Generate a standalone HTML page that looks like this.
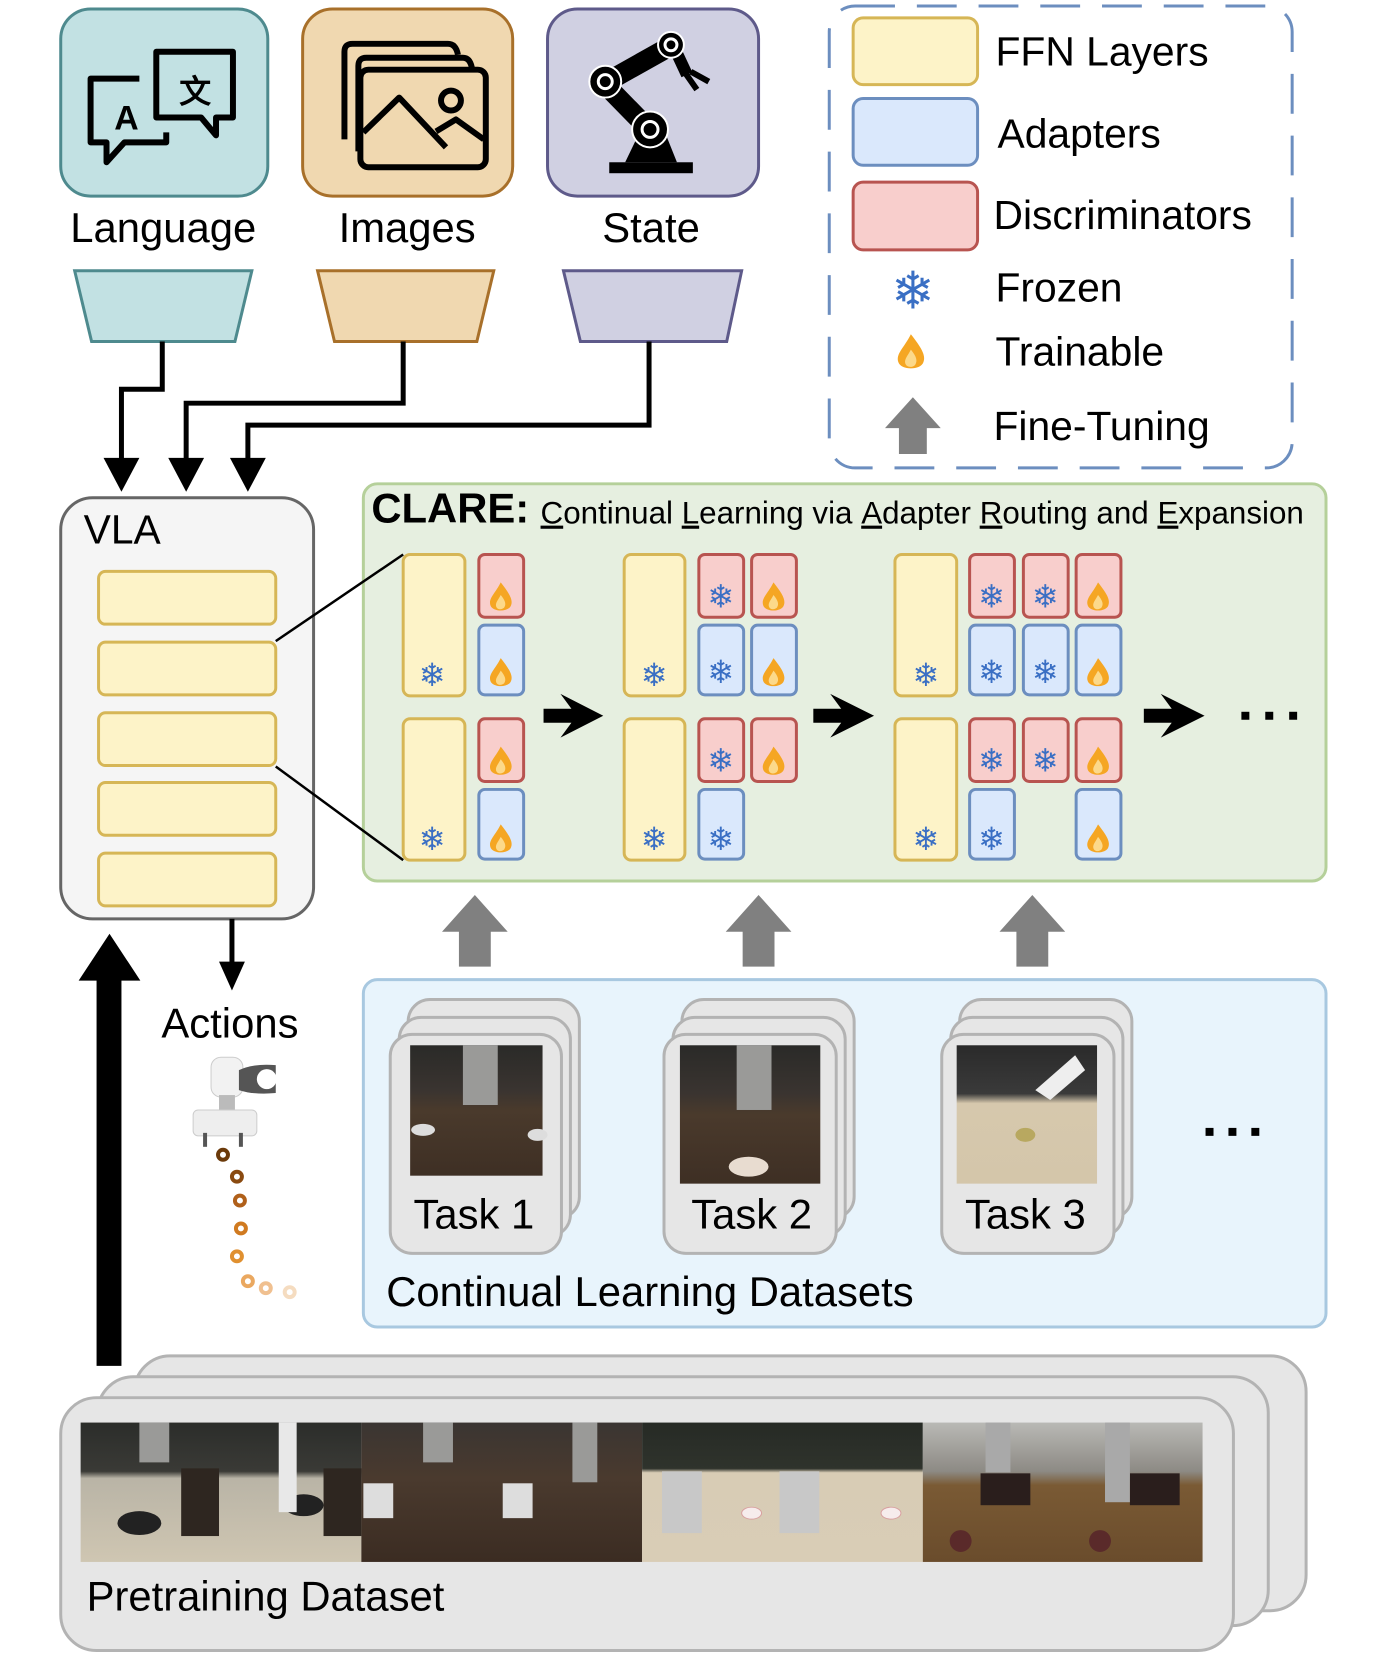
<!DOCTYPE html>
<html><head><meta charset="utf-8"><style>
html,body{margin:0;padding:0;background:#fff;}
svg{display:block;}
text{font-family:"Liberation Sans",Arial,sans-serif;}
</style></head><body>
<svg width="1386" height="1660" viewBox="0 0 1386 1660" xmlns="http://www.w3.org/2000/svg">
<defs>
<linearGradient id="p1" x1="0" y1="0" x2="0" y2="1"><stop offset="0" stop-color="#2b2d2a"/><stop offset="0.35" stop-color="#3a3a36"/><stop offset="0.4" stop-color="#b9b4a6"/><stop offset="1" stop-color="#cfc6b2"/></linearGradient>
<linearGradient id="p2" x1="0" y1="0" x2="0" y2="1"><stop offset="0" stop-color="#3a3532"/><stop offset="0.4" stop-color="#4a3a2e"/><stop offset="1" stop-color="#3b2c22"/></linearGradient>
<linearGradient id="p3" x1="0" y1="0" x2="0" y2="1"><stop offset="0" stop-color="#262a25"/><stop offset="0.33" stop-color="#2f332c"/><stop offset="0.36" stop-color="#d8ccb5"/><stop offset="1" stop-color="#d9cdb6"/></linearGradient>
<linearGradient id="p4" x1="0" y1="0" x2="0" y2="1"><stop offset="0" stop-color="#b9b9b5"/><stop offset="0.35" stop-color="#8d8a84"/><stop offset="0.45" stop-color="#7a5a34"/><stop offset="1" stop-color="#6a4c2c"/></linearGradient>
<linearGradient id="t1" x1="0" y1="0" x2="0" y2="1"><stop offset="0" stop-color="#2a2a28"/><stop offset="0.35" stop-color="#3a3430"/><stop offset="0.5" stop-color="#4a3a2c"/><stop offset="1" stop-color="#3e2f24"/></linearGradient>
<linearGradient id="t3" x1="0" y1="0" x2="0" y2="1"><stop offset="0" stop-color="#2a2a2a"/><stop offset="0.35" stop-color="#3a3a3a"/><stop offset="0.42" stop-color="#d6c8ad"/><stop offset="1" stop-color="#d4c6aa"/></linearGradient>
<g id="flame"><path d="M0,-13 C7,-4 11,2 9,7 C7,13 -7,13 -9,7 C-11,1 -5,-3 0,-13 Z" fill="#f5a623"/><path d="M0,-2 C4,3 5,6 3,9 C1,11 -3,11 -4,8 C-5,5 -2,2 0,-2 Z" fill="#fcd98a"/></g>
</defs>
<g transform="scale(0.9955)">

<!-- Input boxes -->
<rect x="61" y="9" width="208" height="188" rx="30" fill="#c2e1e3" stroke="#4e8a8e" stroke-width="3"/>
<rect x="304" y="9" width="211" height="188" rx="30" fill="#f0d8b0" stroke="#a8702a" stroke-width="3"/>
<rect x="550" y="9" width="212" height="188" rx="30" fill="#d0d0e2" stroke="#5e5a8a" stroke-width="3"/>

<g fill="none" stroke="#000" stroke-width="6" stroke-linejoin="round">
<path d="M140,79 H91 V143 H107 V163 L125,143 H167 V133"/>
<path d="M157,52 H234 V118 H217 V136 L202,118 H157 Z"/>
</g>
<text x="127" y="130" font-size="34" font-weight="bold" text-anchor="middle">A</text>
<text x="196" y="103" font-size="32" font-weight="bold" text-anchor="middle" font-family="Noto Sans CJK SC, sans-serif">文</text>

<g fill="none" stroke="#000" stroke-width="6" stroke-linejoin="round">
<path d="M346,140 V52 Q346,44 354,44 H450 Q458,44 460,55"/>
<path d="M360,152 V66 Q360,58 368,58 H465 Q472,58 474,68"/>
<rect x="362" y="70" width="126" height="98" rx="8"/>
<path d="M365,133 L401,98 L448,148"/>
<path d="M438,132 L458,120 L486,140"/>
<circle cx="453" cy="101" r="10"/>
</g>

<g>
<rect x="612" y="163" width="84" height="11" fill="#000"/>
<polygon points="628,163 680,163 670,138 640,138" fill="#000"/>
<path d="M608,85 L652,130" stroke="#000" stroke-width="20"/>
<path d="M610,82 L676,45" stroke="#000" stroke-width="20"/>
<path d="M676,45 L690,75" stroke="#000" stroke-width="12"/>
<path d="M686,70 L700,90 M694,72 L712,82" stroke="#000" stroke-width="6"/>
<circle cx="608" cy="82" r="16" fill="#000" stroke="#fff" stroke-width="2"/><circle cx="608" cy="82" r="7" fill="none" stroke="#fff" stroke-width="3"/>
<circle cx="653" cy="130" r="18" fill="#000" stroke="#fff" stroke-width="2"/><circle cx="653" cy="130" r="8" fill="none" stroke="#fff" stroke-width="3"/>
<circle cx="674" cy="45" r="13" fill="#000" stroke="#fff" stroke-width="2"/><circle cx="674" cy="45" r="6" fill="none" stroke="#fff" stroke-width="3"/>
</g>

<text x="164" y="243" font-size="42" text-anchor="middle">Language</text>
<text x="409" y="243" font-size="42" text-anchor="middle">Images</text>
<text x="654" y="243" font-size="42" text-anchor="middle">State</text>

<polygon points="75,272 253,272 236,343 92,343" fill="#c2e1e3" stroke="#4e8a8e" stroke-width="3"/>
<polygon points="319,272 496,272 479,343 336,343" fill="#f0d8b0" stroke="#a8702a" stroke-width="3"/>
<polygon points="566,272 745,272 730,343 583,343" fill="#d0d0e2" stroke="#5e5a8a" stroke-width="3"/>

<g fill="none" stroke="#000" stroke-width="5">
<path d="M163,343 V391 H122 V468"/>
<path d="M405,343 V405 H187 V468"/>
<path d="M652,343 V427 H249 V468"/>
</g>
<g fill="#000">
<polygon points="104,460 140,460 122,494"/>
<polygon points="169,460 205,460 187,494"/>
<polygon points="231,460 267,460 249,494"/>
</g>

<!-- Legend -->
<rect x="833" y="6" width="465" height="464" rx="26" fill="none" stroke="#6c8ebf" stroke-width="3" stroke-dasharray="40,22"/>
<rect x="857" y="18" width="125" height="67" rx="10" fill="#fdf3c8" stroke="#d6b656" stroke-width="3"/>
<rect x="857" y="99" width="125" height="67" rx="10" fill="#dae8fc" stroke="#6c8ebf" stroke-width="3"/>
<rect x="857" y="183" width="125" height="68" rx="10" fill="#f8cecc" stroke="#b85450" stroke-width="3"/>
<text x="1000" y="66" font-size="41">FFN Layers</text>
<text x="1002" y="148" font-size="41">Adapters</text>
<text x="998" y="230" font-size="41">Discriminators</text>
<text x="1000" y="303" font-size="41">Frozen</text>
<text x="1000" y="367" font-size="41">Trainable</text>
<text x="998" y="442" font-size="41">Fine-Tuning</text>
<text x="917" y="292" font-size="52" fill="#3a6fc4" text-anchor="middle" dominant-baseline="central" font-family="DejaVu Sans, sans-serif">❄</text>
<use href="#flame" transform="translate(915,354) scale(1.4)"/>
<polygon points="917,399 945,430 931,430 931,456 903,456 903,430 889,430" fill="#808080"/>

<!-- VLA -->
<rect x="61" y="500" width="254" height="423" rx="32" fill="#f5f5f5" stroke="#666" stroke-width="3"/>
<text x="84" y="546" font-size="41">VLA</text>
<g fill="#fdf3c8" stroke="#d6b656" stroke-width="3">
<rect x="99" y="574" width="178" height="53" rx="7"/>
<rect x="99" y="645" width="178" height="53" rx="7"/>
<rect x="99" y="716" width="178" height="53" rx="7"/>
<rect x="99" y="786" width="178" height="53" rx="7"/>
<rect x="99" y="857" width="178" height="53" rx="7"/>
</g>

<!-- CLARE -->
<rect x="365" y="486" width="967" height="399" rx="14" fill="#e6efe0" stroke="#b5d09a" stroke-width="3"/>
<text x="373" y="525" font-size="42" font-weight="bold">CLARE:</text>
<text x="543" y="526" font-size="31.5"><tspan text-decoration="underline">C</tspan>ontinual <tspan text-decoration="underline">L</tspan>earning via <tspan text-decoration="underline">A</tspan>dapter <tspan text-decoration="underline">R</tspan>outing and <tspan text-decoration="underline">E</tspan>xpansion</text>
<line x1="277" y1="644" x2="405" y2="557" stroke="#000" stroke-width="2.5"/>
<line x1="277" y1="770" x2="405" y2="864" stroke="#000" stroke-width="2.5"/>

<g stroke-width="3">
<g fill="#fdf3c8" stroke="#d6b656">
<rect x="405" y="557" width="62" height="142" rx="7"/><rect x="405" y="722" width="62" height="142" rx="7"/>
<rect x="627" y="557" width="61" height="142" rx="7"/><rect x="627" y="722" width="61" height="142" rx="7"/>
<rect x="899" y="557" width="62" height="142" rx="7"/><rect x="899" y="722" width="62" height="142" rx="7"/>
</g>
<g fill="#f8cecc" stroke="#b85450">
<rect x="481" y="557" width="45" height="63" rx="6"/><rect x="481" y="722" width="45" height="63" rx="6"/>
<rect x="702" y="557" width="45" height="63" rx="6"/><rect x="755" y="557" width="45" height="63" rx="6"/>
<rect x="702" y="722" width="45" height="63" rx="6"/><rect x="755" y="722" width="45" height="63" rx="6"/>
<rect x="974" y="557" width="45" height="63" rx="6"/><rect x="1028" y="557" width="45" height="63" rx="6"/><rect x="1081" y="557" width="45" height="63" rx="6"/>
<rect x="974" y="722" width="45" height="63" rx="6"/><rect x="1028" y="722" width="45" height="63" rx="6"/><rect x="1081" y="722" width="45" height="63" rx="6"/>
</g>
<g fill="#dae8fc" stroke="#6c8ebf">
<rect x="481" y="628" width="45" height="70" rx="6"/><rect x="481" y="793" width="45" height="70" rx="6"/>
<rect x="702" y="628" width="45" height="70" rx="6"/><rect x="755" y="628" width="45" height="70" rx="6"/>
<rect x="702" y="793" width="45" height="70" rx="6"/>
<rect x="974" y="628" width="45" height="70" rx="6"/><rect x="1028" y="628" width="45" height="70" rx="6"/><rect x="1081" y="628" width="45" height="70" rx="6"/>
<rect x="974" y="793" width="45" height="70" rx="6"/><rect x="1081" y="793" width="45" height="70" rx="6"/>
</g>
</g>

<g font-size="32" fill="#3a6fc4" text-anchor="middle" dominant-baseline="central" font-family="DejaVu Sans, sans-serif">
<text x="434" y="678">❄</text><text x="434" y="843">❄</text>
<text x="657" y="678">❄</text><text x="657" y="843">❄</text>
<text x="930" y="678">❄</text><text x="930" y="843">❄</text>
<text x="724" y="599">❄</text><text x="724" y="675">❄</text><text x="724" y="764">❄</text><text x="724" y="843">❄</text>
<text x="996" y="599">❄</text><text x="1050" y="599">❄</text><text x="996" y="675">❄</text><text x="1050" y="675">❄</text>
<text x="996" y="764">❄</text><text x="1050" y="764">❄</text><text x="996" y="843">❄</text>
</g>
<use href="#flame" transform="translate(503,600) scale(1.15)"/>
<use href="#flame" transform="translate(503,676) scale(1.15)"/>
<use href="#flame" transform="translate(503,765) scale(1.15)"/>
<use href="#flame" transform="translate(503,843) scale(1.15)"/>
<use href="#flame" transform="translate(777,600) scale(1.15)"/>
<use href="#flame" transform="translate(777,676) scale(1.15)"/>
<use href="#flame" transform="translate(777,765) scale(1.15)"/>
<use href="#flame" transform="translate(1103,600) scale(1.15)"/>
<use href="#flame" transform="translate(1103,676) scale(1.15)"/>
<use href="#flame" transform="translate(1103,765) scale(1.15)"/>
<use href="#flame" transform="translate(1103,843) scale(1.15)"/>

<g fill="#000">
<polygon points="546,712 574,712 563,697 606,719 563,741 574,726 546,726"/>
<polygon points="817,712 845,712 834,697 878,719 834,741 845,726 817,726"/>
<polygon points="1149,712 1177,712 1166,697 1210,719 1166,741 1177,726 1149,726"/>
<rect x="1247" y="715" width="8" height="8"/><rect x="1271" y="715" width="8" height="8"/><rect x="1295" y="715" width="8" height="8"/>
</g>

<g fill="#808080">
<polygon points="477,899 510,936 493,936 493,971 461,971 461,936 444,936"/>
<polygon points="762,899 795,936 778,936 778,971 746,971 746,936 729,936"/>
<polygon points="1037,899 1070,936 1053,936 1053,971 1021,971 1021,936 1004,936"/>
</g>

<rect x="365" y="984" width="967" height="349" rx="14" fill="#e8f4fc" stroke="#a8c8e0" stroke-width="3"/>
<g fill="#e6e6e6" stroke="#b3b3b3" stroke-width="3">
<rect x="410" y="1004" width="172" height="220" rx="22"/><rect x="401" y="1022" width="172" height="220" rx="22"/><rect x="392" y="1039" width="172" height="220" rx="22"/>
<rect x="685" y="1004" width="173" height="220" rx="22"/><rect x="676" y="1022" width="173" height="220" rx="22"/><rect x="667" y="1039" width="173" height="220" rx="22"/>
<rect x="964" y="1004" width="173" height="220" rx="22"/><rect x="955" y="1022" width="173" height="220" rx="22"/><rect x="946" y="1039" width="173" height="220" rx="22"/>
</g>
<rect x="412" y="1050" width="133" height="131" fill="url(#t1)"/>
<rect x="465" y="1050" width="35" height="60" fill="#9a9a98"/>
<ellipse cx="425" cy="1135" rx="12" ry="6" fill="#ddd"/><ellipse cx="540" cy="1140" rx="10" ry="6" fill="#ddd"/>
<rect x="683" y="1050" width="141" height="139" fill="url(#t1)"/>
<rect x="740" y="1050" width="35" height="65" fill="#9a9a98"/>
<ellipse cx="752" cy="1172" rx="20" ry="10" fill="#e8dcd0"/>
<rect x="961" y="1050" width="141" height="139" fill="url(#t3)"/>
<polygon points="1040,1095 1080,1060 1090,1075 1055,1105" fill="#eee"/>
<ellipse cx="1030" cy="1140" rx="10" ry="7" fill="#b8a860"/>
<g font-size="42" text-anchor="middle">
<text x="476" y="1234">Task 1</text><text x="755" y="1234">Task 2</text><text x="1030" y="1234">Task 3</text>
</g>
<g fill="#000"><rect x="1211" y="1133" width="8" height="8"/><rect x="1234" y="1133" width="8" height="8"/><rect x="1257" y="1133" width="8" height="8"/></g>
<text x="388" y="1312" font-size="42">Continual Learning Datasets</text>

<line x1="233" y1="923" x2="233" y2="972" stroke="#000" stroke-width="5"/>
<polygon points="220,966 246,966 233,995" fill="#000"/>
<text x="231" y="1042" font-size="42" text-anchor="middle">Actions</text>
<g>
<rect x="212" y="1062" width="32" height="40" rx="10" fill="#f2f2f2" stroke="#ccc"/>
<path d="M240,1075 Q255,1068 277,1070 L277,1098 Q255,1100 240,1095 Z" fill="#555"/>
<circle cx="268" cy="1084" r="10" fill="#fff"/>
<rect x="220" y="1100" width="16" height="18" fill="#bbb"/>
<rect x="194" y="1115" width="64" height="26" rx="5" fill="#eee" stroke="#ccc"/>
<rect x="204" y="1138" width="4" height="14" fill="#555"/><rect x="240" y="1138" width="4" height="14" fill="#555"/>
</g>
<g fill="none" stroke-width="4">
<circle cx="224" cy="1160" r="5" stroke="#6b3a0a"/>
<circle cx="238" cy="1182" r="5" stroke="#8a4a10"/>
<circle cx="241" cy="1206" r="5" stroke="#b0601a"/>
<circle cx="242" cy="1234" r="5" stroke="#d07a20"/>
<circle cx="238" cy="1262" r="5" stroke="#e09030"/>
<circle cx="249" cy="1287" r="5" stroke="#eaa860"/>
<circle cx="267" cy="1294" r="5" stroke="#f0c090"/>
<circle cx="291" cy="1298" r="5" stroke="#f5dcc0"/>
</g>

<polygon points="110,938 141,985 122,985 122,1372 97,1372 97,985 79,985" fill="#000"/>

<g fill="#e6e6e6" stroke="#b3b3b3" stroke-width="3">
<rect x="135" y="1362" width="1177" height="256" rx="36"/>
<rect x="98" y="1383" width="1176" height="250" rx="36"/>
<rect x="61" y="1404" width="1178" height="254" rx="36"/>
</g>
<rect x="81" y="1429" width="282" height="140" fill="url(#p1)"/>
<rect x="363" y="1429" width="282" height="140" fill="url(#p2)"/>
<rect x="645" y="1429" width="282" height="140" fill="url(#p3)"/>
<rect x="927" y="1429" width="281" height="140" fill="url(#p4)"/>
<rect x="182" y="1475" width="38" height="68" fill="#2e2620"/><rect x="325" y="1475" width="38" height="68" fill="#2e2620"/>
<ellipse cx="140" cy="1530" rx="22" ry="12" fill="#222"/><ellipse cx="305" cy="1512" rx="20" ry="11" fill="#222"/>
<rect x="140" y="1429" width="30" height="40" fill="#9a9a98"/><rect x="280" y="1429" width="18" height="90" fill="#e8e8e8"/>
<rect x="365" y="1490" width="30" height="35" fill="#ddd"/><rect x="505" y="1490" width="30" height="35" fill="#ddd"/>
<rect x="425" y="1429" width="30" height="40" fill="#9a9a98"/><rect x="575" y="1429" width="25" height="60" fill="#9a9a98"/>
<rect x="665" y="1478" width="40" height="62" fill="#c8c8c8"/><rect x="783" y="1478" width="40" height="62" fill="#c8c8c8"/>
<ellipse cx="755" cy="1520" rx="10" ry="6" fill="#f6ecec" stroke="#d8a0a0"/><ellipse cx="895" cy="1520" rx="10" ry="6" fill="#f6ecec" stroke="#d8a0a0"/>
<rect x="985" y="1480" width="50" height="32" fill="#2a1e1c"/><rect x="1135" y="1480" width="50" height="32" fill="#2a1e1c"/>
<rect x="990" y="1429" width="25" height="50" fill="#a9a9a9"/><rect x="1110" y="1429" width="25" height="80" fill="#a9a9a9"/>
<circle cx="965" cy="1548" r="11" fill="#5a2a2a"/><circle cx="1105" cy="1548" r="11" fill="#5a2a2a"/>
<text x="87" y="1618" font-size="42">Pretraining Dataset</text>
</g>
</svg>
</body></html>
